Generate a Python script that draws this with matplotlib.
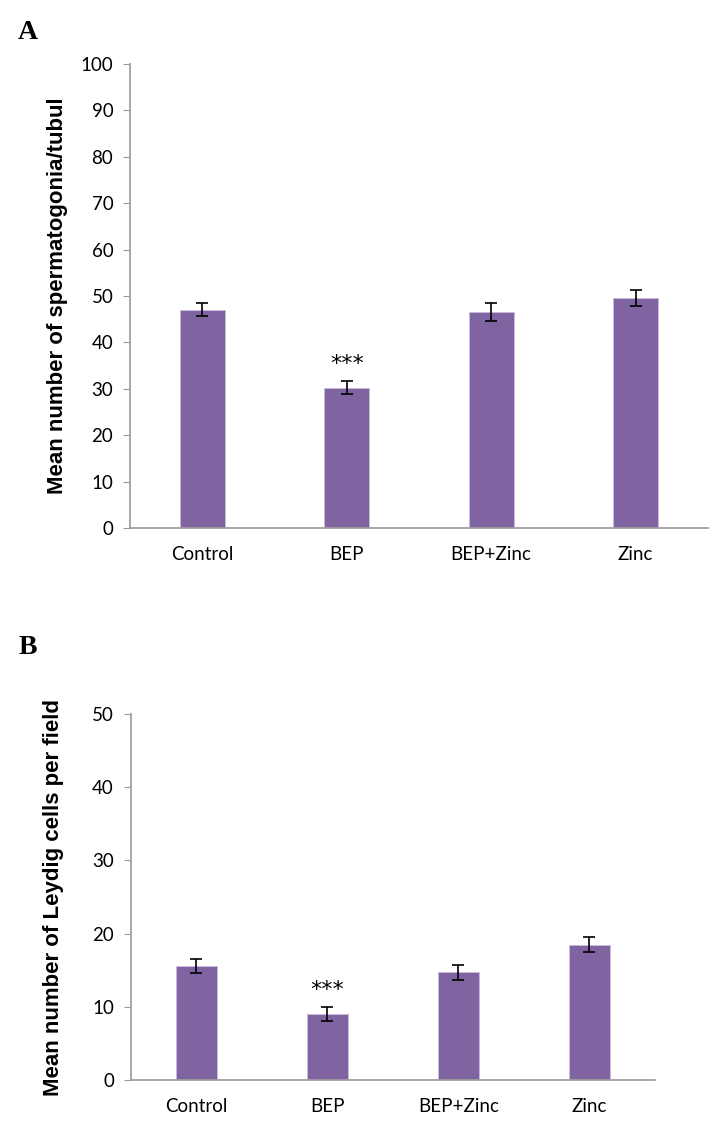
import matplotlib.pyplot as plt

# Data
groups = ["Control", "BEP", "BEP+Zinc", "Zinc"]
spermatogonia = [47.0, 30.2, 46.6, 49.6]
spermatogonia_err = [1.4, 1.4, 2.0, 1.7]
leydig = [15.6, 9.0, 14.7, 18.5]
leydig_err = [1.0, 1.0, 1.0, 1.0]
stars = ["", "***", "", ""]

bar_color = "#8064A2"
tick_font = "Lato"
label_font = "Liberation Sans"

fig = plt.figure(figsize=(7.26, 11.43), dpi=100)


def draw_panel(ax, values, errors, ymax, ystep, ylabel, star_gap):
    x = range(len(groups))
    ax.bar(x, values, width=0.31, color=bar_color, edgecolor="#c9bde0",
           linewidth=0.6, zorder=2)
    ax.errorbar(x, values, yerr=errors, fmt="none", ecolor="black",
                elinewidth=1.2, capsize=4.5, capthick=1.2, zorder=3)
    for i, s in enumerate(stars):
        if s:
            ax.text(i, values[i] + errors[i] + star_gap, s, ha="center",
                    va="bottom", fontsize=16, fontfamily="DejaVu Sans")
    ax.set_xlim(-0.5, len(groups) - 0.5)
    ax.set_ylim(0, ymax)
    ax.set_yticks(range(0, ymax + 1, ystep))
    ax.set_xticks(list(x))
    ax.set_xticklabels(groups, fontsize=13.5, fontfamily=tick_font)
    for lab in ax.get_yticklabels():
        lab.set_fontsize(13.5)
        lab.set_fontfamily(tick_font)
    ax.tick_params(axis="x", length=0, pad=13)
    ax.tick_params(axis="y", length=5, color="#999999", pad=7)
    for side in ["top", "right"]:
        ax.spines[side].set_visible(False)
    for side in ["left", "bottom"]:
        ax.spines[side].set_color("#a0a0a0")
        ax.spines[side].set_linewidth(1.3)
    ax.set_ylabel(ylabel, fontsize=16, fontweight="bold",
                  fontfamily=label_font)


axA = fig.add_axes([0.179, 0.538, 0.796, 0.406])
draw_panel(axA, spermatogonia, spermatogonia_err, 100, 10,
           "Mean number of spermatogonia/tubul", 1.6)
axA.yaxis.set_label_coords(-0.107, 0.5)

axB = fig.add_axes([0.180, 0.0551, 0.722, 0.3202])
draw_panel(axB, leydig, leydig_err, 50, 10,
           "Mean number of Leydig cells per field", 0.9)
axB.yaxis.set_label_coords(-0.128, 0.5)

fig.text(0.025, 0.966, "A", fontsize=20, fontweight="bold",
         fontfamily="Liberation Serif")
fig.text(0.025, 0.428, "B", fontsize=20, fontweight="bold",
         fontfamily="Liberation Serif")

fig.savefig("out.png", dpi=100)
